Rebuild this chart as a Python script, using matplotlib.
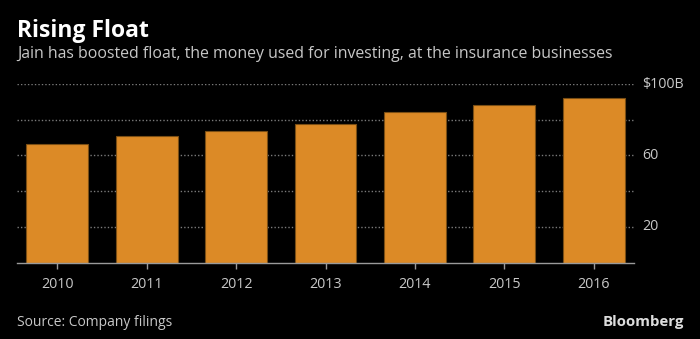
import matplotlib
matplotlib.use("Agg")
import matplotlib.pyplot as plt
import matplotlib.transforms as mtransforms

years = ["2010", "2011", "2012", "2013", "2014", "2015", "2016"]
float_bn = [66.3, 70.9, 73.5, 77.6, 84.3, 88.1, 92.0]
grid_vals = [20, 40, 60, 80, 100]
label_vals = [20, 60, 100]
label_text = ["20", "60", "$100B"]

W, H = 700, 339
fig = plt.figure(figsize=(W / 100, H / 100), dpi=100, facecolor="black")
FONT = "Open Sans"
TXT = "#c8c8c8"

ax = fig.add_axes([17 / W, (H - 262.7) / H, (634 - 17) / W, (262.7 - 84) / H])
ax.set_facecolor("black")
x = list(range(len(years)))
ax.bar(x, float_bn, width=0.69, color="#dc8a26", edgecolor="#7a4e14", linewidth=0.8, zorder=3)
ax.set_xlim(-0.45, 6.45)
ax.set_ylim(0, 100)
for g in grid_vals:
    ax.axhline(g, color="#7a7a7a", linestyle=(0, (1, 1.5)), linewidth=1.0, zorder=1)
for s in ["top", "right", "left"]:
    ax.spines[s].set_visible(False)
ax.spines["bottom"].set_color("#9a9a9a")
ax.spines["bottom"].set_linewidth(1.0)
ax.spines["bottom"].set_zorder(4)
ax.set_xticks(x)
ax.set_xticklabels(years, fontfamily=FONT, fontsize=10.3, color=TXT)
ax.tick_params(axis="x", colors="#9a9a9a", length=4, width=1, pad=6, labelcolor=TXT)
ax.set_yticks([])
ytrans = ax.get_yaxis_transform() + mtransforms.ScaledTranslation(8 / 100, 0, fig.dpi_scale_trans)
for v, t in zip(label_vals, label_text):
    ax.text(1.0, v, t, transform=ytrans, ha="left", va="center",
            fontfamily=FONT, fontsize=10.3, color=TXT)

fig.text(17 / W, 1 - 36.7 / H, "Rising Float", fontfamily=FONT, fontweight="bold",
         fontsize=16.5, color="white", ha="left", va="baseline")
fig.text(17 / W, 1 - 58.3 / H, "Jain has boosted float, the money used for investing, at the insurance businesses",
         fontfamily=FONT, fontsize=11.4, color=TXT, ha="left", va="baseline")
fig.text(17 / W, 1 - 326 / H, "Source: Company filings", fontfamily=FONT, fontsize=10,
         color=TXT, ha="left", va="baseline")
fig.text(684 / W, 1 - 326 / H, "Bloomberg", fontfamily=FONT, fontweight="bold", fontsize=10.8,
         color="#dddddd", ha="right", va="baseline")

fig.savefig("out.png", dpi=100, facecolor="black")
